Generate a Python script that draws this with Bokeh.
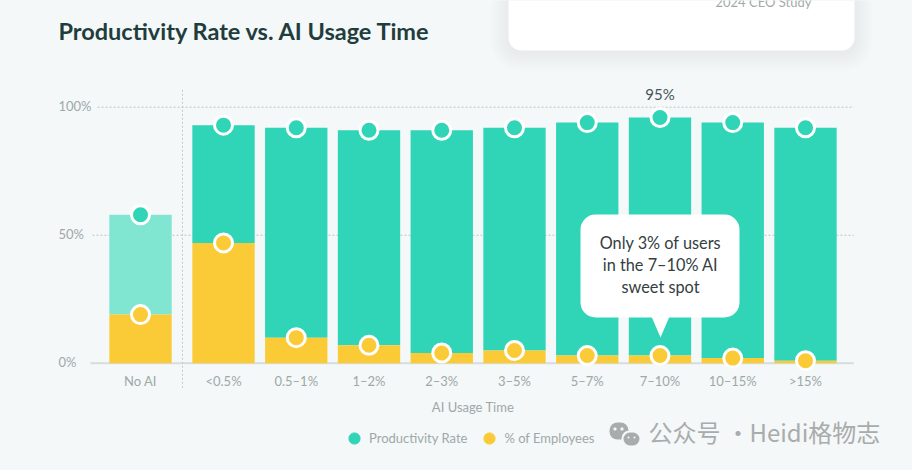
from bokeh.plotting import figure
from bokeh.embed import file_html
from bokeh.resources import INLINE
from bokeh.core.properties import value
from bokeh.models import (ColumnDataSource, FactorRange, Range1d, Label, BoxAnnotation,
                          PolyAnnotation, Legend, LegendItem, GlobalInlineStyleSheet)

title = "Productivity Rate vs. AI Usage Time"
categories = ["No AI", "<0.5%", "0.5–1%", "1–2%", "2–3%", "3–5%", "5–7%", "7–10%", "10–15%", ">15%"]
productivity = [58, 93, 92, 91, 91, 92, 94, 96, 94, 92]
employees = [19, 47, 10, 7, 4, 5, 3, 3, 2, 1]
y_ticks = [0, 50, 100]
y_labels = ["0%", "50%", "100%"]
callout_lines = ["Only 3% of users", "in the 7–10% AI", "sweet spot"]
peak_label = "95%"
x_title = "AI Usage Time"
legend_labels = ["Productivity Rate", "% of Employees"]

BG = "#f4f8f8"; TEAL = "#30d4b6"; TEAL_LIGHT = "#80e6d1"; YELLOW = "#fbcb37"
GRAY = "#9ea8a8"; DARK = "#1f3d3d"; FONT = "Lato"

factors = [("a" if c == "No AI" else "b", c) for c in categories]
bar_colors = [TEAL_LIGHT if c == "No AI" else TEAL for c in categories]
src = ColumnDataSource(dict(x=factors, prod=productivity, emp=employees, color=bar_colors))

# The plot frame spans the full canvas height so that the card and watermark are not clipped
p = figure(width=912, height=470, output_backend="svg", toolbar_location=None,
           x_range=FactorRange(*factors, group_padding=0.141, factor_padding=0,
                               subgroup_padding=0, range_padding=0.641, range_padding_units="absolute"),
           y_range=Range1d(-41.9, 141.7),
           min_border_left=57, min_border_right=24, min_border_top=0, min_border_bottom=0,
           background_fill_color=BG, border_fill_color=BG, outline_line_color=None)
p.stylesheets = [GlobalInlineStyleSheet(css="html,body{margin:0;background:%s}" % BG)]


def canvas_box(l, r, t, b, color, alpha=1, radius=0):
    p.add_layout(BoxAnnotation(left=l, right=r, top=t, bottom=b, left_units="canvas", right_units="canvas",
                               top_units="canvas", bottom_units="canvas", fill_color=color, fill_alpha=alpha,
                               line_color=None, border_radius=radius))


def canvas_text(x, y, text, color, size, font=FONT, align="left", style="normal"):
    p.add_layout(Label(x=x, y=y, x_units="canvas", y_units="canvas", text=text, text_align=align,
                       text_baseline="middle", text_color=color, text_font=font, text_font_size=size,
                       text_font_style=style))


canvas_text(58, 30, title, DARK, "23.5px", style="bold")

# axes
p.xgrid.visible = False
p.ygrid.visible = False
p.yaxis[0].visible = False

first, last = factors[0], factors[-1]
grid_starts = [-0.687, -0.66, -0.59]
for tick, lab, start in zip(y_ticks, y_labels, grid_starts):
    if tick == 0:
        p.segment(x0=[(*first, start)], x1=[(*last, 0.664)], y0=[tick], y1=[tick],
                  line_color="#d6dddd", line_width=2)
    else:
        p.segment(x0=[(*first, start)], x1=[(*last, 0.664)], y0=[tick], y1=[tick],
                  line_color="#bcc5c5", line_dash="2 2", line_width=1)
    p.add_layout(Label(x=58, y=tick, x_units="canvas", y_units="data", text=lab, text_align="left",
                       text_baseline="middle", y_offset=1, text_color=GRAY, text_font=FONT, text_font_size="13px"))

xa = p.xaxis[0]
xa.fixed_location = 0
xa.axis_line_color = None
xa.major_tick_line_color = None
xa.minor_tick_line_color = None
xa.separator_line_color = None
xa.group_text_color = None
xa.group_text_font_size = "1px"
xa.major_label_text_color = GRAY
xa.major_label_text_font = FONT
xa.major_label_text_font_size = "13px"
xa.major_label_standoff = 4
xa.axis_label = x_title
xa.axis_label_text_color = GRAY
xa.axis_label_text_font = FONT
xa.axis_label_text_font_style = "normal"
xa.axis_label_text_font_size = "13px"
xa.axis_label_standoff = 6

# bars
p.vbar(x="x", bottom="emp", top="prod", width=0.857, fill_color="color", line_color=None, source=src)
p.vbar(x="x", bottom=0, top="emp", width=0.857, fill_color=YELLOW, line_color=None, source=src)

# separator between "No AI" and the usage groups
p.segment(x0=[(*first, 0.577)], x1=[(*first, 0.577)], y0=[-9.6], y1=[107.6],
          line_color="#c2caca", line_dash="2 2", line_width=1)

# points
p.scatter(x="x", y="prod", size=18, fill_color=TEAL, line_color="white", line_width=3, source=src)
p.scatter(x="x", y="emp", size=18, fill_color=YELLOW, line_color="white", line_width=3, source=src)

# peak label
p.text(x=[factors[7]], y=[productivity[7]], text=[peak_label], text_align="center", text_baseline="bottom",
       y_offset=-14, text_color="#47555a", text_font=value(FONT), text_font_size="15px")

# legend
nan = float("nan")
r1 = p.scatter(x=[first], y=[nan], size=14, fill_color=TEAL, line_color=TEAL)
r2 = p.scatter(x=[first], y=[nan], size=14, fill_color=YELLOW, line_color=YELLOW)
leg = Legend(items=[LegendItem(label=legend_labels[0], renderers=[r1]),
                    LegendItem(label=legend_labels[1], renderers=[r2])],
             orientation="horizontal", location=(283, 18), background_fill_alpha=0, border_line_color=None,
             glyph_width=28, glyph_height=28, label_standoff=1, spacing=8, padding=0, margin=0,
             label_text_color=GRAY, label_text_font=FONT, label_text_font_size="13px")
p.add_layout(leg, "center")

# card at the top right, with its soft shadow
for g in range(18, 0, -3):
    canvas_box(508 - g, 854 + g, -20, 52 + g, "#9aa8a8", alpha=0.018, radius=12 + g)
canvas_box(508, 854, -20, 50, "white", radius=13)
canvas_text(715, 1, "2024 CEO Study", "#a3a9a9", "13px")

# callout
canvas_box(580, 739, 214, 317, "white", radius=15)
p.add_layout(PolyAnnotation(xs=[651, 669, 660], ys=[316, 316, 337], xs_units="canvas", ys_units="canvas",
                            fill_color="white", fill_alpha=1, line_color=None))
for line, yy in zip(callout_lines, [242, 264, 286]):
    canvas_text(660, yy, line, "#33403f", "16.3px", align="center")

# watermark
WM = "#a9acac"
for l, r, t, b, rad, col in [(609, 628, 422, 439, 8, WM), (621, 640, 430, 446, 8, BG), (623, 639, 432, 445, 7, WM),
                             (613, 616, 427, 430, 1, BG), (620, 623, 427, 430, 1, BG),
                             (627, 629, 436, 438, 1, BG), (633, 635, 436, 438, 1, BG)]:
    canvas_box(l, r, t, b, col, radius=rad)
canvas_text(648, 431, "公众号 ·", WM, "24px", font="Noto Sans CJK SC")
canvas_text(749, 431, "Heidi格物志", WM, "24px", font="Noto Sans CJK SC")

open("out.html", "w").write(file_html(p, INLINE))
